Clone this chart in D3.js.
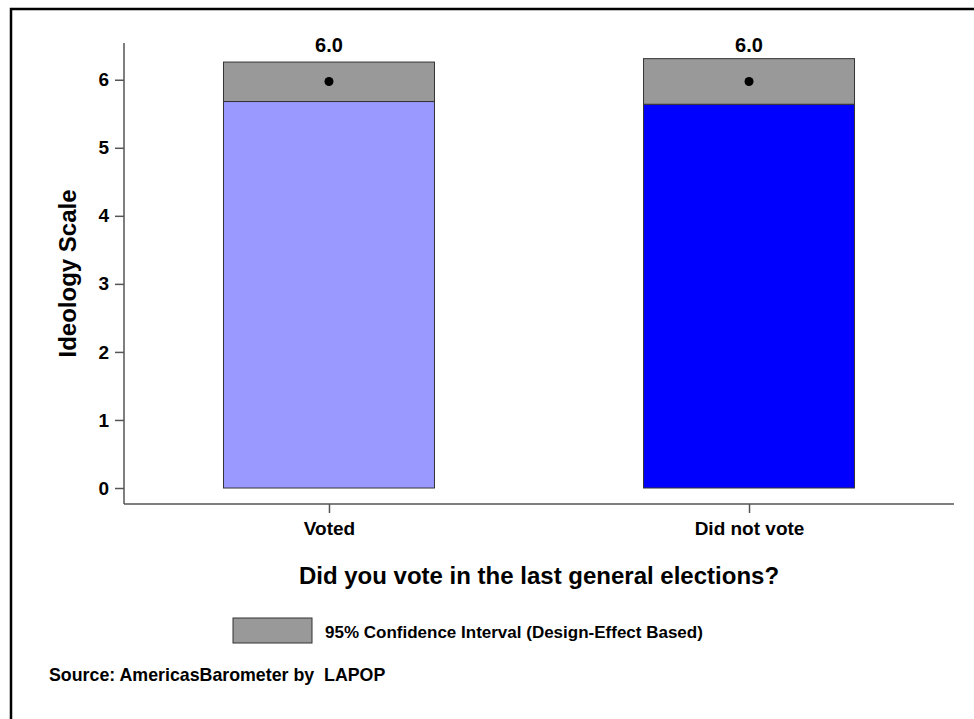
<!DOCTYPE html>
<html>
<head>
<meta charset="utf-8">
<script src="https://cdn.jsdelivr.net/npm/d3@7"></script>
<style>
  html, body { margin: 0; padding: 0; background: #fff; }
  svg { display: block; }
  text { font-family: "Liberation Sans", Arial, Helvetica, sans-serif; font-weight: bold; fill: #000; }
</style>
</head>
<body>
<svg id="chart" width="974" height="719"></svg>
<script>
// ---- data ----
const categories = ["Voted", "Did not vote"];
const means = [5.975, 5.975];
const ciLower = [5.68, 5.64];
const ciUpper = [6.26, 6.31];
const barColors = ["#9999FF", "#0000FF"];
const yTicks = [0, 1, 2, 3, 4, 5, 6];
const yTitle = "Ideology Scale";
const xTitle = "Did you vote in the last general elections?";
const legendLabel = "95% Confidence Interval (Design-Effect Based)";
const sourceNote = "Source: AmericasBarometer by  LAPOP";

const svg = d3.select("#chart");

// outer frame (only top and left visible)
svg.append("rect")
  .attr("x", 11).attr("y", 9)
  .attr("width", 1200).attr("height", 1200)
  .attr("fill", "none").attr("stroke", "#000").attr("stroke-width", 2.5);

const plot = { left: 124, right: 954, top: 43, bottom: 504 };

const y = d3.scaleLinear()
  .domain([-0.235, 6.54])
  .range([plot.bottom, plot.top]);

const x = d3.scalePoint()
  .domain(categories)
  .range([plot.left, plot.right])
  .padding(0.488);

const barW = 211;
const data = categories.map((c, i) => ({
  cat: c, mean: means[i], lo: ciLower[i], hi: ciUpper[i], color: barColors[i]
}));

// bars (from 0 to lower CI)
svg.append("g").selectAll("rect")
  .data(data).join("rect")
  .attr("x", d => x(d.cat) - barW / 2)
  .attr("y", d => y(d.lo))
  .attr("width", barW)
  .attr("height", d => y(0) - y(d.lo))
  .attr("fill", d => d.color)
  .attr("stroke", "#333").attr("stroke-width", 1);

// CI boxes
svg.append("g").selectAll("rect")
  .data(data).join("rect")
  .attr("x", d => x(d.cat) - barW / 2)
  .attr("y", d => y(d.hi))
  .attr("width", barW)
  .attr("height", d => y(d.lo) - y(d.hi))
  .attr("fill", "#999999")
  .attr("stroke", "#333").attr("stroke-width", 1);

// mean dots
svg.append("g").selectAll("circle")
  .data(data).join("circle")
  .attr("cx", d => x(d.cat))
  .attr("cy", d => y(d.mean))
  .attr("r", 4.5)
  .attr("fill", "#000");

// value labels
const fmt = d3.format(".1f");
svg.append("g").selectAll("text")
  .data(data).join("text")
  .attr("x", d => x(d.cat))
  .attr("y", 52)
  .attr("text-anchor", "middle")
  .style("font-size", "20px")
  .text(d => fmt(d.mean));

// y axis
const yAxis = d3.axisLeft(y).tickValues(yTicks).tickFormat(d3.format("d")).tickSize(9).tickPadding(6);
const gy = svg.append("g").attr("transform", `translate(${plot.left},0)`).call(yAxis);
gy.select(".domain").attr("d", `M0,${plot.top}V${plot.bottom}`);
gy.selectAll(".domain, .tick line").attr("stroke", "#555").attr("stroke-width", 1.5);
gy.selectAll(".tick text").style("font-size", "19px").style("font-family", null).attr("fill", "#000");

// x axis
const xAxis = d3.axisBottom(x).tickSize(9).tickPadding(9);
const gx = svg.append("g").attr("transform", `translate(0,${plot.bottom})`).call(xAxis);
gx.select(".domain").attr("d", `M${plot.left},0H${plot.right}`);
gx.selectAll(".domain, .tick line").attr("stroke", "#555").attr("stroke-width", 1.5);
gx.selectAll(".tick text").style("font-size", "19px").style("font-family", null).attr("fill", "#000");

// axis titles
svg.append("text")
  .attr("transform", `translate(76,${(plot.top + plot.bottom) / 2}) rotate(-90)`)
  .attr("text-anchor", "middle")
  .style("font-size", "24px")
  .text(yTitle);

svg.append("text")
  .attr("x", (plot.left + plot.right) / 2)
  .attr("y", 584)
  .attr("text-anchor", "middle")
  .style("font-size", "24px")
  .text(xTitle);

// legend
svg.append("rect")
  .attr("x", 233).attr("y", 618).attr("width", 79).attr("height", 25)
  .attr("fill", "#999999").attr("stroke", "#333").attr("stroke-width", 1);
svg.append("text")
  .attr("x", 325).attr("y", 638)
  .style("font-size", "17px")
  .text(legendLabel);

// source
svg.append("text")
  .attr("x", 49).attr("y", 681)
  .style("font-size", "17.8px")
  .style("white-space", "pre")
  .attr("xml:space", "preserve")
  .text(sourceNote);
</script>
</body>
</html>
